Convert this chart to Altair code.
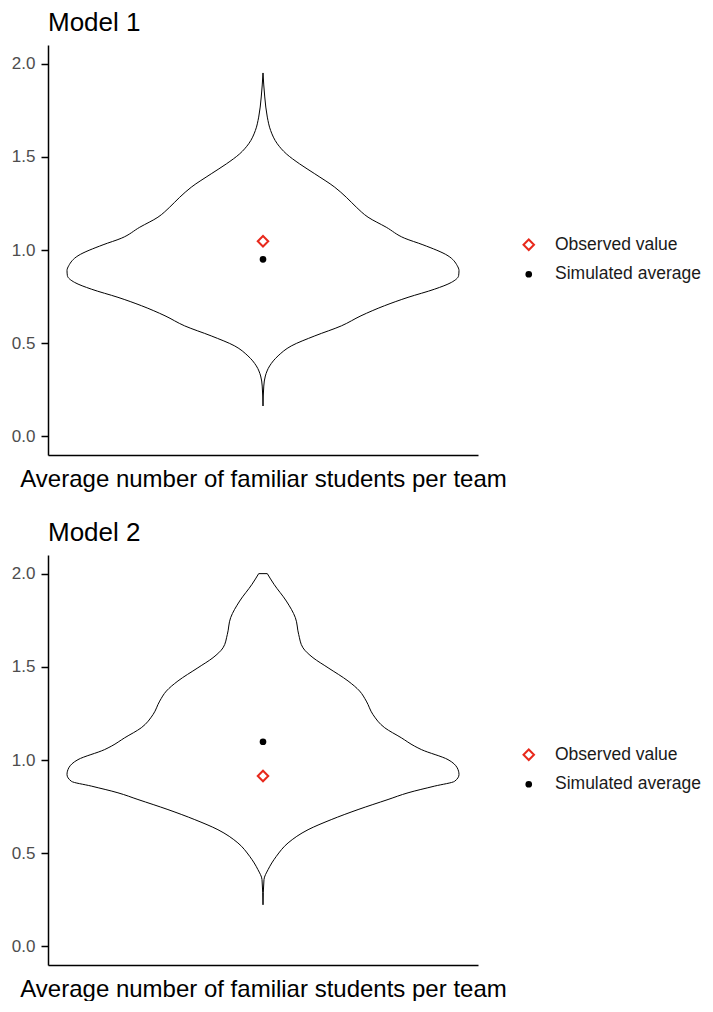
import altair as alt
import pandas as pd

# ---- data ----
models = ["Model 1", "Model 2"]
axis_title = "Average number of familiar students per team"
y_ticks = [0.0, 0.5, 1.0, 1.5, 2.0]
legend_labels = ["Observed value", "Simulated average"]

# violin outline of Model 1: y value and relative density (half-width, max = 1)
m1_value = [0.163, 0.270, 0.324, 0.378, 0.432, 0.485, 0.539, 0.593, 0.647, 0.701,
            0.746, 0.790, 0.826, 0.862, 0.890, 0.916, 0.969, 1.028, 1.063, 1.122,
            1.176, 1.230, 1.283, 1.337, 1.409, 1.462, 1.516, 1.570, 1.641, 1.713,
            1.821, 1.950]
m1_density = [0.0, 0.004, 0.012, 0.034, 0.077, 0.144, 0.264, 0.400, 0.500, 0.620,
              0.740, 0.876, 0.961, 0.998, 1.000, 0.991, 0.944, 0.816, 0.723, 0.629,
              0.536, 0.476, 0.425, 0.366, 0.264, 0.187, 0.119, 0.073, 0.039, 0.022,
              0.009, 0.0]

# violin outline of Model 2
m2_value = [0.223, 0.358, 0.412, 0.483, 0.555, 0.626, 0.680, 0.734, 0.788, 0.824,
            0.860, 0.886, 0.922, 0.958, 1.002, 1.056, 1.074, 1.119, 1.173, 1.244,
            1.316, 1.370, 1.424, 1.495, 1.549, 1.602, 1.674, 1.764, 1.853, 1.943,
            2.000]
m2_density = [0.0, 0.005, 0.026, 0.068, 0.128, 0.230, 0.348, 0.485, 0.638, 0.740,
              0.876, 0.978, 1.000, 0.991, 0.944, 0.808, 0.774, 0.706, 0.621, 0.561,
              0.527, 0.493, 0.434, 0.332, 0.255, 0.204, 0.182, 0.165, 0.119, 0.056,
              0.022]

observed = [1.047, 0.914]
simulated = [0.950, 1.098]

RED = "#E8291C"


def panel(title, vals, dens, obs, sim):
    vdf = pd.DataFrame({"value": vals, "lo": [-d for d in dens], "hi": dens})
    pdf = pd.DataFrame({"type": legend_labels, "value": [obs, sim], "lo": [0.0, 0.0]})
    xs = alt.Scale(domain=[-1.097, 1.097], nice=False, zero=False)
    ys = alt.Scale(domain=[-0.1, 2.1], nice=False, zero=False)
    xaxis = alt.Axis(title=axis_title, labels=False, ticks=False, grid=False)
    yaxis = alt.Axis(title=None, values=y_ticks, format=".1f", grid=False)

    violin = alt.Chart(vdf).mark_area(
        orient="horizontal", interpolate="monotone", fill="white",
        stroke="black", strokeWidth=1
    ).encode(
        y=alt.Y("value:Q", scale=ys, axis=yaxis),
        x=alt.X("lo:Q", scale=xs, axis=xaxis),
        x2="hi:Q",
    )

    pts = alt.Chart(pdf).mark_point(opacity=1, strokeWidth=2).encode(
        x=alt.X("lo:Q", scale=xs, axis=xaxis),
        y=alt.Y("value:Q", scale=ys, axis=yaxis),
        shape=alt.Shape("type:N", scale=alt.Scale(domain=legend_labels, range=["diamond", "circle"]),
                        legend=alt.Legend(title=None)),
        fill=alt.Fill("type:N", scale=alt.Scale(domain=legend_labels, range=["white", "black"]),
                      legend=alt.Legend(title=None)),
        stroke=alt.Stroke("type:N", scale=alt.Scale(domain=legend_labels, range=[RED, "black"]),
                          legend=alt.Legend(title=None)),
        size=alt.Size("type:N", scale=alt.Scale(domain=legend_labels, range=[110, 22]),
                      legend=alt.Legend(title=None)),
    )

    return alt.layer(violin, pts).properties(
        width=430, height=410,
        title=alt.Title(title, anchor="start", frame="group", fontSize=26,
                        fontWeight="normal", color="black", offset=9),
    )


p1 = panel(models[0], m1_value, m1_density, observed[0], simulated[0])
p2 = panel(models[1], m2_value, m2_density, observed[1], simulated[1])

chart = alt.vconcat(p1, p2, spacing=29).resolve_scale(
    shape="independent", fill="independent", stroke="independent", size="independent",
    x="independent", y="independent"
).properties(
    padding={"left": 3, "top": 2, "right": 0, "bottom": 0}
).configure(
    font="Liberation Sans"
).configure_view(
    stroke=None
).configure_axis(
    grid=False, domainColor="black", domainWidth=1.5, tickColor="black",
    tickWidth=1.5, tickSize=7, labelPadding=6, labelFontSize=17,
    labelColor="#4D4D4D", titleFontSize=24, titleColor="black",
    titleFontWeight="normal", titlePadding=12
).configure_legend(
    orient="none", legendX=472, legendY=191, padding=0, labelFontSize=17.5,
    labelColor="#1A1A1A", labelOffset=17.5, rowPadding=10.5, symbolStrokeWidth=2
)

chart.save("out.html", embed_options={"renderer": "svg", "actions": False})
